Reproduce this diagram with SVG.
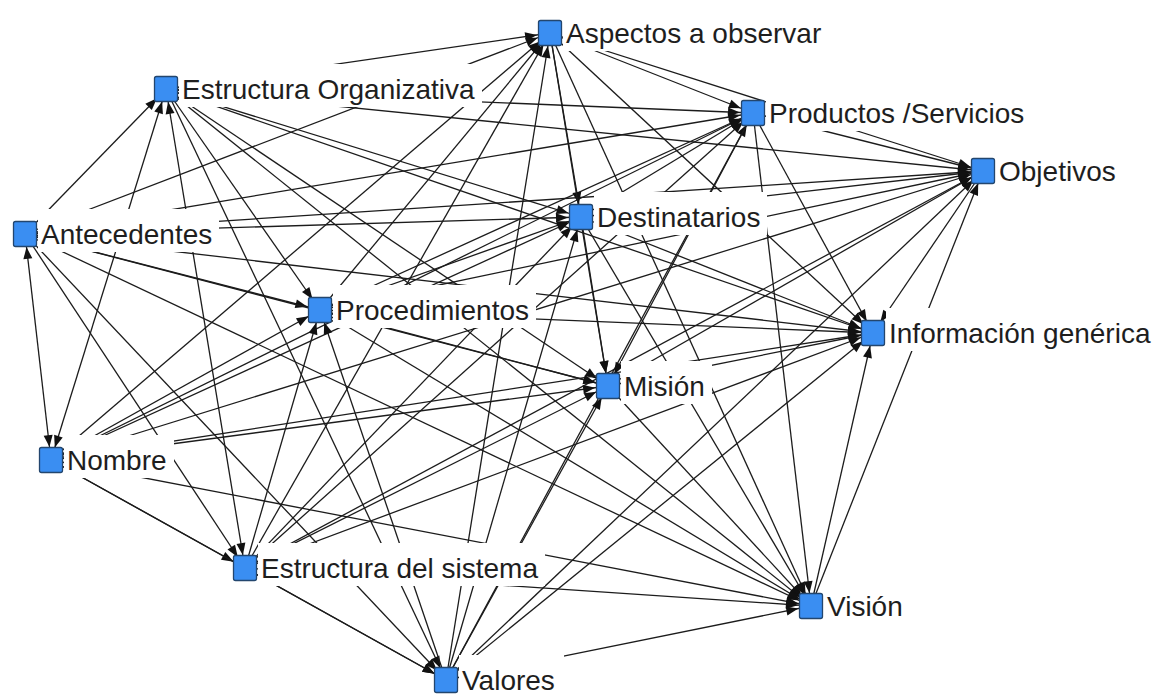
<svg xmlns="http://www.w3.org/2000/svg" width="1164" height="695" viewBox="0 0 1164 695">
<style>
.e{fill:none;stroke:#1c1c1c;stroke-width:1.3;marker-end:url(#ah)}
.bi{marker-start:url(#ah)}
.lb{fill:#ffffff;stroke:none}
.t{font-family:"Liberation Sans",Arial,sans-serif;font-size:28px;fill:#1e1e1e}
.n{fill:#3a8ef2;stroke:#23466e;stroke-width:1.3}
</style>
<defs>
<marker id="ah" markerUnits="userSpaceOnUse" markerWidth="30" markerHeight="12" viewBox="0 0 30 12" refX="25" refY="6" orient="auto-start-reverse" overflow="visible">
<path d="M0,1.5 L12,6 L0,10.5 z" fill="#111"/>
</marker>
</defs>
<rect width="1164" height="695" fill="#ffffff"/>
<g id="connectors">
<!-- Antecedentes -->
<path class="e" d="M25,234 L166,89"/>
<path class="e bi" d="M25,234 L51,460"/>
<path class="e" d="M25,234 L245,568"/>
<path class="e" d="M25,234 L446,680"/>
<path class="e" d="M25,234 L320,310"/>
<path class="e" d="M25,234 L550,33"/>
<path class="e" d="M25,234 L581,217"/>
<path class="e" d="M25,234 L753,113"/>
<path class="e" d="M25,234 L608,386"/>
<path class="e" d="M25,234 L811,606"/>
<path class="e" d="M25,234 L983,171"/>
<path class="e" d="M25,234 L873,333"/>
<!-- Estructura Organizativa -->
<path class="e bi" d="M166,89 L51,460"/>
<path class="e bi" d="M166,89 L245,568"/>
<path class="e" d="M166,89 L446,680"/>
<path class="e" d="M166,89 L320,310"/>
<path class="e" d="M166,89 L550,33"/>
<path class="e" d="M166,89 L581,217"/>
<path class="e" d="M166,89 L753,113"/>
<path class="e" d="M166,89 L608,386"/>
<path class="e" d="M166,89 L811,606"/>
<path class="e" d="M166,89 L983,171"/>
<path class="e" d="M166,89 L873,333"/>
<!-- Nombre -->
<path class="e" d="M51,460 L245,568"/>
<path class="e" d="M51,460 L446,680"/>
<path class="e" d="M51,460 L320,310"/>
<path class="e" d="M51,460 L550,33"/>
<path class="e" d="M51,460 L581,217"/>
<path class="e" d="M51,460 L753,113"/>
<path class="e" d="M51,460 L608,386"/>
<path class="e" d="M51,460 L811,606"/>
<path class="e" d="M51,460 L983,171"/>
<path class="e" d="M51,460 L873,333"/>
<!-- Estructura del sistema -->
<path class="e" d="M245,568 L446,680"/>
<path class="e" d="M245,568 L320,310"/>
<path class="e" d="M245,568 L550,33"/>
<path class="e" d="M245,568 L581,217"/>
<path class="e" d="M245,568 L753,113"/>
<path class="e" d="M245,568 L608,386"/>
<path class="e" d="M245,568 L811,606"/>
<path class="e" d="M245,568 L983,171"/>
<path class="e" d="M245,568 L873,333"/>
<!-- Valores -->
<path class="e" d="M446,680 L320,310"/>
<path class="e" d="M446,680 L550,33"/>
<path class="e" d="M446,680 L581,217"/>
<path class="e" d="M446,680 L753,113"/>
<path class="e" d="M446,680 L608,386"/>
<path class="e" d="M446,680 L811,606"/>
<path class="e" d="M446,680 L983,171"/>
<path class="e" d="M446,680 L873,333"/>
<!-- Procedimientos -->
<path class="e" d="M320,310 L550,33"/>
<path class="e" d="M320,310 L581,217"/>
<path class="e" d="M320,310 L753,113"/>
<path class="e" d="M320,310 L608,386"/>
<path class="e" d="M320,310 L811,606"/>
<path class="e" d="M320,310 L983,171"/>
<path class="e" d="M320,310 L873,333"/>
<!-- Aspectos a observar -->
<path class="e" d="M550,33 L581,217"/>
<path class="e" d="M550,33 L753,113"/>
<path class="e" d="M550,33 L608,386"/>
<path class="e" d="M550,33 L811,606"/>
<path class="e" d="M550,33 L983,171"/>
<path class="e" d="M550,33 L873,333"/>
<!-- Destinatarios -->
<path class="e" d="M581,217 L753,113"/>
<path class="e" d="M581,217 L608,386"/>
<path class="e" d="M581,217 L811,606"/>
<path class="e" d="M581,217 L983,171"/>
<path class="e" d="M581,217 L873,333"/>
<!-- Productos /Servicios -->
<path class="e" d="M753,113 L608,386"/>
<path class="e" d="M753,113 L811,606"/>
<path class="e" d="M753,113 L983,171"/>
<path class="e" d="M753,113 L873,333"/>
<!-- Misión -->
<path class="e" d="M608,386 L811,606"/>
<path class="e" d="M608,386 L983,171"/>
<path class="e" d="M608,386 L873,333"/>
<!-- Visión -->
<path class="e" d="M811,606 L983,171"/>
<path class="e" d="M811,606 L873,333"/>
<!-- Objetivos -->
<path class="e" d="M983,171 L873,333"/>
</g>
<g id="node-aspectos"><rect class="lb" x="563" y="8" width="265" height="43"/><text class="t" x="566" y="43">Aspectos a observar</text><rect class="n" x="538.5" y="20.5" width="23" height="25" rx="2"/></g>
<g id="node-estructura-organizativa"><rect class="lb" x="179" y="64" width="303" height="43"/><text class="t" x="182" y="99">Estructura Organizativa</text><rect class="n" x="154.5" y="76.5" width="23" height="25" rx="2"/></g>
<g id="node-productos"><rect class="lb" x="766" y="88" width="265" height="43"/><text class="t" x="769" y="123">Productos /Servicios</text><rect class="n" x="741.5" y="100.5" width="23" height="25" rx="2"/></g>
<g id="node-objetivos"><rect class="lb" x="996" y="146" width="127" height="43"/><text class="t" x="999" y="181">Objetivos</text><rect class="n" x="971.5" y="158.5" width="23" height="25" rx="2"/></g>
<g id="node-antecedentes"><rect class="lb" x="38" y="209" width="181" height="43"/><text class="t" x="41" y="244">Antecedentes</text><rect class="n" x="13.5" y="221.5" width="23" height="25" rx="2"/></g>
<g id="node-destinatarios"><rect class="lb" x="594" y="192" width="173" height="43"/><text class="t" x="597" y="227">Destinatarios</text><rect class="n" x="569.5" y="204.5" width="23" height="25" rx="2"/></g>
<g id="node-procedimientos"><rect class="lb" x="333" y="285" width="203" height="43"/><text class="t" x="336" y="320">Procedimientos</text><rect class="n" x="308.5" y="297.5" width="23" height="25" rx="2"/></g>
<g id="node-informacion"><rect class="lb" x="886" y="308" width="271" height="43"/><text class="t" x="889" y="343">Información genérica</text><rect class="n" x="861.5" y="320.5" width="23" height="25" rx="2"/></g>
<g id="node-mision"><rect class="lb" x="621" y="361" width="91" height="43"/><text class="t" x="624" y="396">Misión</text><rect class="n" x="596.5" y="373.5" width="23" height="25" rx="2"/></g>
<g id="node-nombre"><rect class="lb" x="64" y="435" width="110" height="43"/><text class="t" x="67" y="470">Nombre</text><rect class="n" x="39.5" y="447.5" width="23" height="25" rx="2"/></g>
<g id="node-estructura-sistema"><rect class="lb" x="258" y="543" width="287" height="43"/><text class="t" x="261" y="578">Estructura del sistema</text><rect class="n" x="233.5" y="555.5" width="23" height="25" rx="2"/></g>
<g id="node-vision"><rect class="lb" x="824" y="581" width="86" height="43"/><text class="t" x="827" y="616">Visión</text><rect class="n" x="799.5" y="593.5" width="23" height="25" rx="2"/></g>
<g id="node-valores"><rect class="lb" x="459" y="655" width="105" height="43"/><text class="t" x="462" y="690">Valores</text><rect class="n" x="434.5" y="667.5" width="23" height="25" rx="2"/></g>
</svg>
